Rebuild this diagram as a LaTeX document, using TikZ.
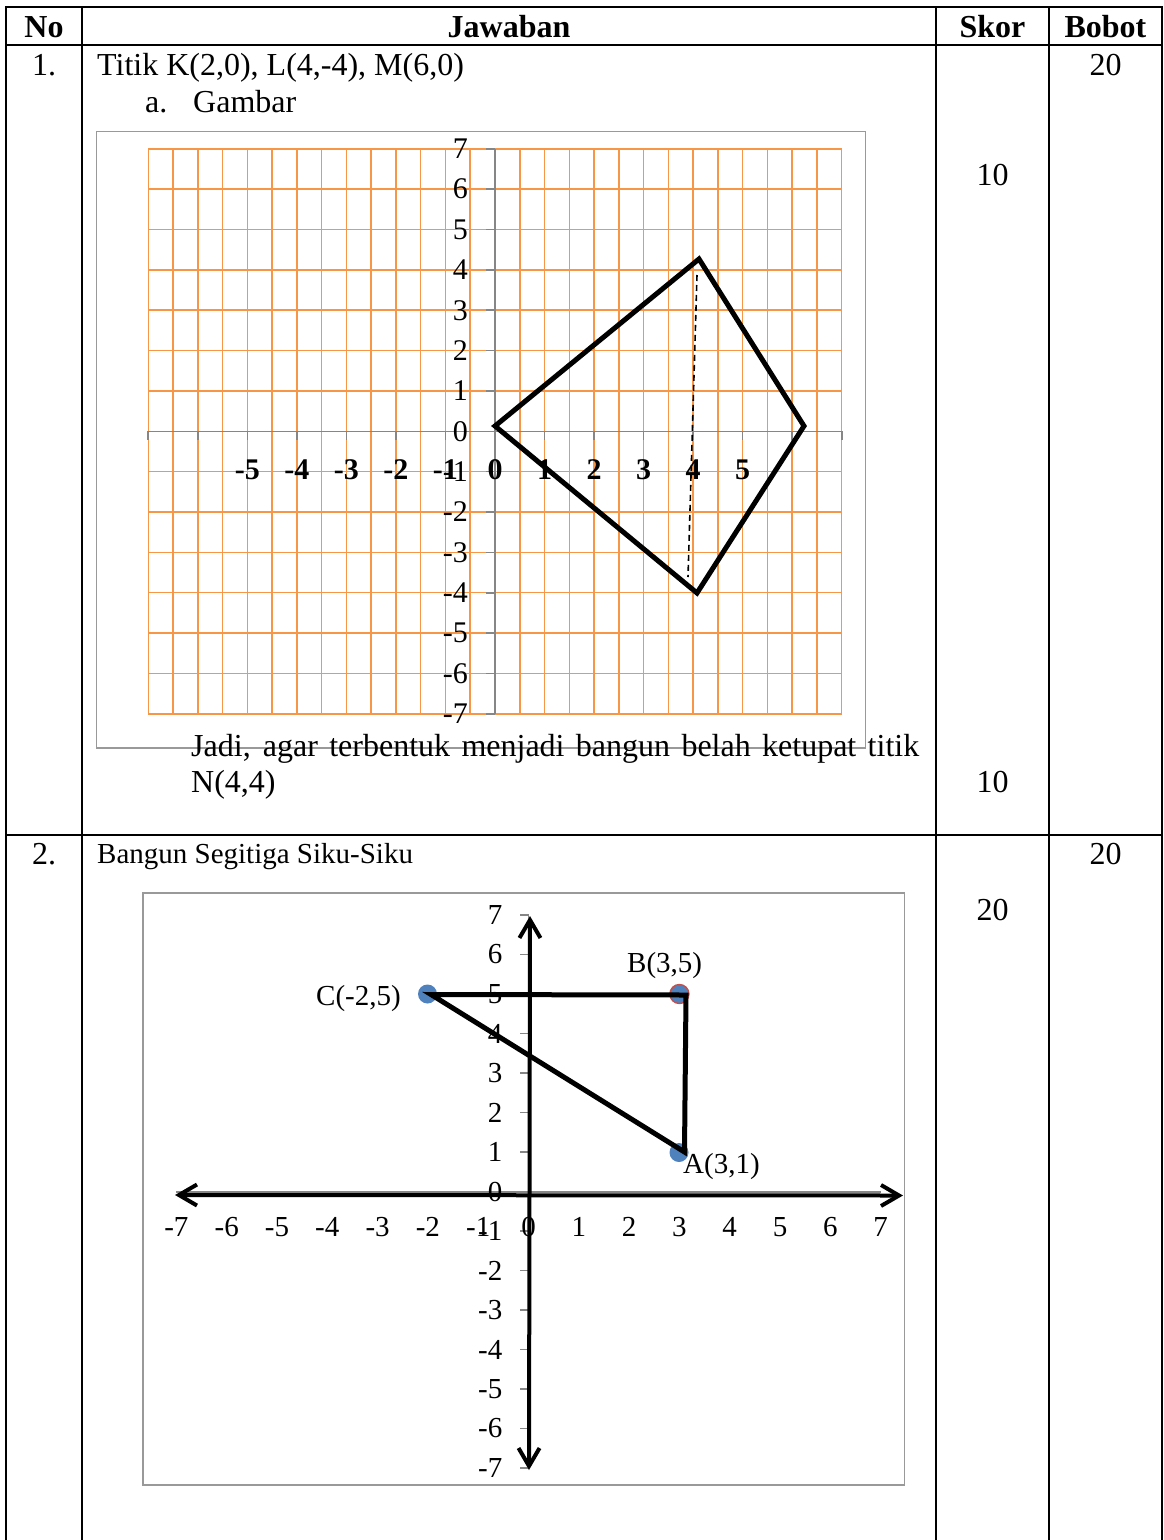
\documentclass[tikz,border=0pt]{standalone}
\usepackage{fontspec}
\setmainfont{Liberation Serif}
\usetikzlibrary{arrows.meta}
\definecolor{gridor}{HTML}{F79646}
\definecolor{axgray}{HTML}{868686}
\definecolor{frgray}{HTML}{999999}
\definecolor{ptblue}{HTML}{4F81BD}
\definecolor{ptred}{HTML}{C0504D}
\begin{document}
\begin{tikzpicture}[x=1pt,y=-1pt,
  tline/.style={line width=2.2pt, black},
  body/.style={inner sep=0pt, font=\fontsize{32}{38}\selectfont},
  bodysm/.style={inner sep=0pt, font=\fontsize{29}{34}\selectfont},
  head/.style={inner sep=0pt, font=\fontsize{32}{38}\selectfont\bfseries},
  chartframe/.style={draw=frgray, line width=1.6pt},
  gridln/.style={draw=gridor, line width=1.5pt},
  axln/.style={draw=axgray, line width=1.6pt},
  lblA/.style={inner sep=0pt, font=\fontsize{30}{36}\selectfont},
  lblAb/.style={inner sep=0pt, font=\fontsize{30}{36}\selectfont\bfseries},
  lblB/.style={inner sep=0pt, font=\fontsize{29}{34}\selectfont},
  figline/.style={draw=black, line width=5pt, line join=miter},
  dashln/.style={draw=black, line width=1.6pt, dash pattern=on 6pt off 4pt},
  blackax/.style={draw=black, line width=4pt,
     arrows={Straight Barb[length=18pt,width=21pt]-Straight Barb[length=18pt,width=21pt]}},
  pt/.style={circle, fill=ptblue, minimum size=19pt, inner sep=0pt}
]
\useasboundingbox (0,0) rectangle (1164,1540);
\fill[white] (0,0) rectangle (1164,1540);

% ---------- table ----------
\draw[tline] (6,7) -- (1162,7);
\draw[tline] (6,45) -- (1162,45);
\draw[tline] (6,835) -- (1162,835);
\foreach \xx in {6,82,936,1049,1162}
  \draw[tline] (\xx,6) -- (\xx,1540);

\node[head, anchor=base] (hNo) at (44,37) {No};
\node[head, anchor=base] (hJaw) at (509,37) {Jawaban};
\node[head, anchor=base] (hSkor) at (992.5,37) {Skor};
\node[head, anchor=base] (hBob) at (1105.5,37) {Bobot};

% row 1 text
\node[body, anchor=base] (n1) at (44,75) {1.};
\node[body, anchor=base west] (t1) at (97,75) {Titik K(2,0), L(4,-4), M(6,0)};
\node[body, anchor=base west] (t1a) at (145,112) {a.};
\node[body, anchor=base west] (t1g) at (193,112) {Gambar};
\node[body, anchor=base] (b1) at (1105.5,75) {20};
\node[body, anchor=base] (s1a) at (992.5,185) {10};
\node[body, anchor=base] (s1b) at (992.5,792) {10};

% ---------- chart 1 ----------
\draw[chartframe] (96.5,131.5) rectangle (865.5,748);
\foreach \i in {0,...,28}
  \draw[gridln] ({148.3+\i*24.765},148.8) -- ({148.3+\i*24.765},713.8);
\foreach \j in {0,...,14}
  \draw[gridln] (148.3,{148.8+\j*40.357}) -- (841.7,{148.8+\j*40.357});
\draw[axln] (148.3,431.3) -- (841.7,431.3);
\draw[axln] (495,148.8) -- (495,713.8);
\foreach \k in {-7,...,7}
  \draw[axln] ({495+49.53*\k},431.3) -- ({495+49.53*\k},440);
\foreach \k in {-7,...,7}
  \draw[axln] (486,{431.3-40.357*\k}) -- (495,{431.3-40.357*\k});
\foreach \k in {7,6,...,-7}
  \node[lblA, anchor=east] (ya\k) at (468,{431.3-40.357*\k}) {\k};
\foreach \k in {-5,...,5}
  \node[lblAb, anchor=base] (xa\k) at ({495+49.53*\k},479.3) {\k};

\coordinate (qL) at (495,426);
\coordinate (qT) at (699,259);
\coordinate (qR) at (804,426);
\coordinate (qB) at (697,593);
\draw[figline] (qL) -- (qT) -- (qR) -- (qB) -- cycle;
\coordinate (dT) at (697,275);
\coordinate (dB) at (688,577);
\draw[dashln] (dT) -- (dB);

\node[body, anchor=base west] (jadi) at (191,756)
  {\makebox[728pt][s]{Jadi, agar terbentuk menjadi bangun belah ketupat titik}};
\node[body, anchor=base west] (nn) at (191,792) {N(4,4)};

% row 2 text
\node[body, anchor=base] (n2) at (44,864) {2.};
\node[bodysm, anchor=base west] (t2) at (97,863) {Bangun Segitiga Siku-Siku};
\node[body, anchor=base] (b2) at (1105.5,864) {20};
\node[body, anchor=base] (s2) at (992.5,920) {20};

% ---------- chart 2 ----------
\draw[chartframe] (142.7,892.7) rectangle (904.3,1485);
\draw[axln] (176.4,1192) -- (880.6,1192);
\draw[axln] (528.5,915) -- (528.5,1468);
\foreach \k in {-7,...,7}
  \draw[axln] (520,{1191.5-39.5*\k}) -- (528.5,{1191.5-39.5*\k});
\foreach \k in {7,6,...,-7}
  \node[lblB, anchor=east] (yb\k) at (502.5,{1191.5-39.5*\k}) {\k};
\foreach \k in {-7,...,7}
  \node[lblB, anchor=base] (xb\k) at ({528.5+50.3*\k},1236.7) {\k};

\coordinate (axL) at (175,1195);
\coordinate (axR) at (903,1195.5);
\coordinate (axT) at (530,916);
\coordinate (axB) at (529,1470);
\draw[blackax] (axL) -- (axR);
\draw[blackax] (axT) -- (axB);

\node[pt] (pC) at (427.5,994) {};
\node[pt, draw=ptred, line width=1.4pt] (pB) at (679.4,994) {};
\node[pt] (pA) at (679,1152.5) {};

\coordinate (cC) at (431,994.5);
\coordinate (cB) at (686,995);
\coordinate (cA) at (684.5,1152);
\draw[figline] (cC) -- (cB) -- (cA) -- cycle;

\node[lblB, anchor=base east] (lC) at (401,1005) {C(-2,5)};
\node[lblB, anchor=base west] (lB) at (627,972) {B(3,5)};
\node[lblB, anchor=base west] (lA) at (683,1173) {A(3,1)};
\end{tikzpicture}
\end{document}
